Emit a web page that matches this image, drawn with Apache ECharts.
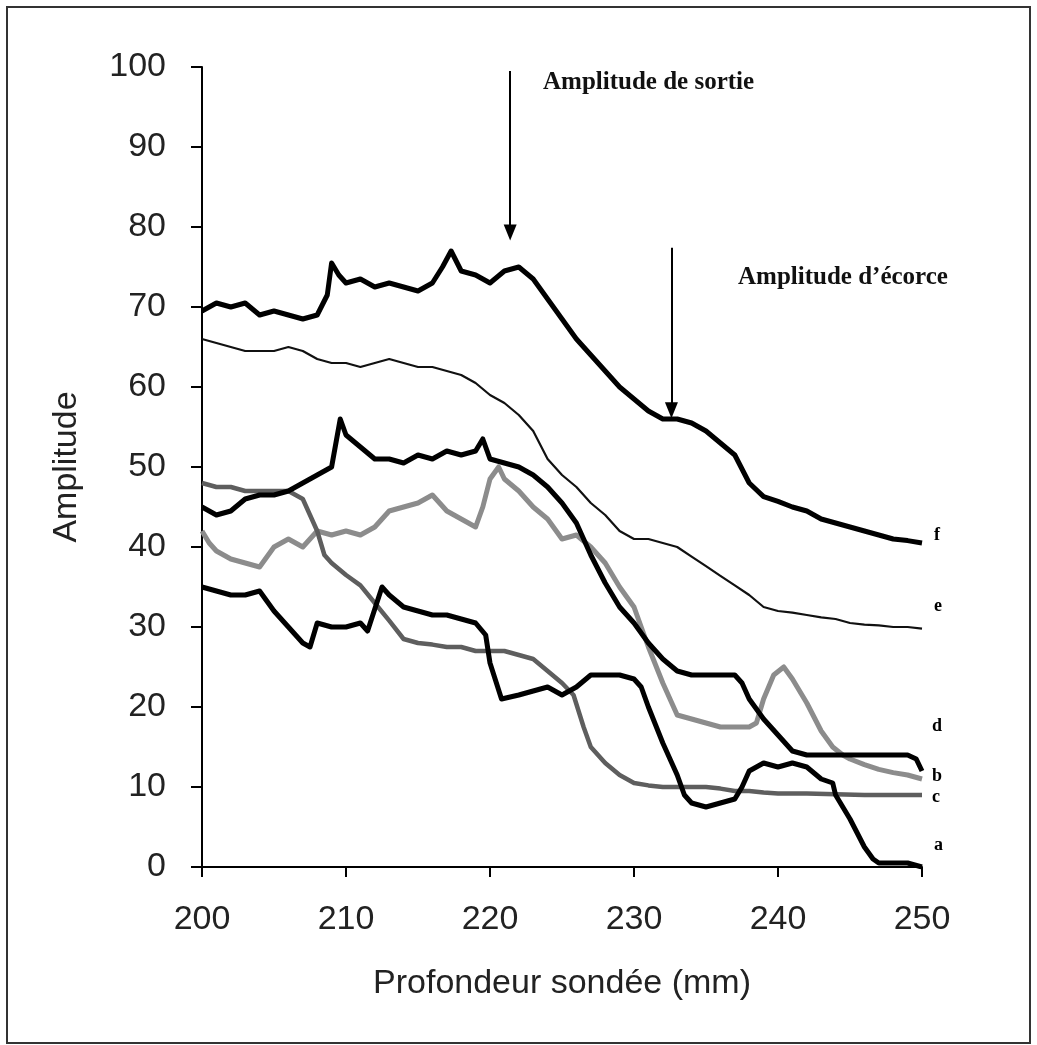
<!DOCTYPE html>
<html>
<head>
<meta charset="utf-8">
<script src="https://cdn.jsdelivr.net/npm/echarts@6/dist/echarts.min.js"></script>
<style>
    html, body { margin: 0; padding: 0; background: #fff; }
    #chart { width: 1037px; height: 1045px; }
</style>
</head>
<body>
<div id="chart"></div>
<script>
// profondeur (mm) / amplitude
const serieA = [[200,35],[201,34.5],[202,34],[203,34],[204,34.5],[205,32],[206,30],[207,28],[207.5,27.5],[208,30.5],[209,30],[210,30],[211,30.5],[211.5,29.5],[212.5,35],[213,34],[214,32.5],[215,32],[216,31.5],[217,31.5],[218,31],[219,30.5],[219.7,29],[220,25.5],[220.8,21],[222,21.5],[223,22],[224,22.5],[225,21.5],[226,22.5],[227,24],[228,24],[229,24],[230,23.5],[230.5,22.5],[231,20],[232,15.5],[233,11.5],[233.5,9],[234,8],[235,7.5],[236,8],[237,8.5],[237.5,10],[238,12],[239,13],[240,12.5],[241,13],[242,12.5],[243,11],[243.8,10.5],[244,9],[245,6],[246,2.5],[246.6,1],[247,0.5],[248,0.5],[249,0.5],[250,0]];
const serieB = [[200,42],[200.5,40.5],[201,39.5],[202,38.5],[203,38],[204,37.5],[205,40],[206,41],[207,40],[208,42],[209,41.5],[210,42],[211,41.5],[212,42.5],[213,44.5],[214,45],[215,45.5],[216,46.5],[217,44.5],[218,43.5],[219,42.5],[219.5,45],[220,48.5],[220.6,50],[221,48.5],[222,47],[223,45],[224,43.5],[225,41],[226,41.5],[227,40],[228,38],[229,35],[230,32.5],[231,27.5],[232,23],[233,19],[234,18.5],[235,18],[236,17.5],[237,17.5],[238,17.5],[238.5,18],[239,21],[239.7,24],[240.4,25],[241,23.5],[242,20.5],[243,17],[243.8,15],[244.5,14],[245,13.5],[246,12.8],[247,12.2],[248,11.8],[249,11.5],[250,11]];
const serieC = [[200,48],[201,47.5],[202,47.5],[203,47],[204,47],[205,47],[206,47],[206.5,46.5],[207,46],[207.5,44],[208,42],[208.5,39],[209,38],[210,36.5],[211,35.2],[212,33],[213,30.8],[214,28.5],[215,28],[216,27.8],[217,27.5],[218,27.5],[219,27],[220,27],[221,27],[222,26.5],[223,26],[224,24.5],[225,23],[225.8,21.5],[226.5,17.5],[227,15],[228,13],[229,11.5],[230,10.5],[231,10.2],[232,10],[233,10],[234,10],[235,10],[236,9.8],[237,9.5],[238,9.5],[239,9.3],[240,9.2],[242,9.2],[244,9.1],[246,9],[248,9],[250,9]];
const serieD = [[200,45],[201,44],[202,44.5],[203,46],[204,46.5],[205,46.5],[206,47],[207,48],[208,49],[209,50],[209.6,56],[210,54],[211,52.5],[212,51],[213,51],[214,50.5],[215,51.5],[216,51],[217,52],[218,51.5],[219,52],[219.5,53.5],[220,51],[221,50.5],[222,50],[223,49],[224,47.5],[225,45.5],[226,43],[227,39],[228,35.5],[229,32.5],[230,30.5],[231,28],[232,26],[233,24.5],[234,24],[235,24],[236,24],[237,24],[237.5,23],[238,21],[239,18.5],[240,16.5],[241,14.5],[242,14],[243,14],[244,14],[245,14],[246,14],[247,14],[248,14],[249,14],[249.6,13.5],[250,12]];
const serieE = [[200,66],[201,65.5],[202,65],[203,64.5],[204,64.5],[205,64.5],[206,65],[207,64.5],[208,63.5],[209,63],[210,63],[211,62.5],[212,63],[213,63.5],[214,63],[215,62.5],[216,62.5],[217,62],[218,61.5],[219,60.5],[220,59],[221,58],[222,56.5],[223,54.5],[224,51],[225,49],[226,47.5],[227,45.5],[228,44],[229,42],[230,41],[231,41],[232,40.5],[233,40],[234,38.8],[235,37.6],[236,36.4],[237,35.2],[238,34],[239,32.5],[240,32],[241,31.8],[242,31.5],[243,31.2],[244,31],[245,30.5],[246,30.3],[247,30.2],[248,30],[249,30],[250,29.8]];
const serieF = [[200,69.5],[201,70.5],[202,70],[203,70.5],[204,69],[205,69.5],[206,69],[207,68.5],[208,69],[208.7,71.5],[209,75.5],[209.5,74],[210,73],[211,73.5],[212,72.5],[213,73],[214,72.5],[215,72],[216,73],[216.7,75],[217.3,77],[218,74.5],[219,74],[220,73],[221,74.5],[222,75],[223,73.5],[224,71],[225,68.5],[226,66],[227,64],[228,62],[229,60],[230,58.5],[231,57],[232,56],[233,56],[234,55.5],[235,54.5],[236,53],[237,51.5],[238,48],[239,46.3],[240,45.7],[241,45],[242,44.5],[243,43.5],[244,43],[245,42.5],[246,42],[247,41.5],[248,41],[249,40.8],[250,40.5]];

// flèches : [profondeur, amplitude haut, amplitude pointe]
const flecheSortie = [221.4, 99.5, 79.3];
const flecheEcorce = [232.6, 77.4, 57.1];

const chart = echarts.init(document.getElementById('chart'));

function courbe(nom, data, color, width, offset) {
    return {
        name: nom,
        type: 'line',
        data: data,
        symbol: 'none',
        lineStyle: { color: color, width: width, join: 'round' },
        z: 3,
        endLabel: {
            show: true,
            formatter: nom,
            distance: 6,
            offset: offset,
            color: '#000',
            fontFamily: 'Liberation Serif',
            fontSize: 18,
            fontWeight: 'bold'
        }
    };
}

const series = [
    courbe('b', serieB, '#8c8c8c', 5, [4, -3]),
    courbe('c', serieC, '#5e5e5e', 4.5, [4, 2]),
    courbe('e', serieE, '#111', 2.2, [6, -22]),
    courbe('d', serieD, '#000', 5, [4, -45]),
    courbe('a', serieA, '#000', 5, [6, -22]),
    courbe('f', serieF, '#000', 5, [6, -8])
];
series[series.length - 1].markLine = {
    silent: true,
    symbol: ['none', 'triangle'],
    symbolSize: [13, 16],
    lineStyle: { color: '#000', width: 2, type: 'solid' },
    label: { show: false },
    data: [
        [{ coord: [flecheSortie[0], flecheSortie[1]] }, { coord: [flecheSortie[0], flecheSortie[2]] }],
        [{ coord: [flecheEcorce[0], flecheEcorce[1]] }, { coord: [flecheEcorce[0], flecheEcorce[2]] }]
    ]
};

chart.setOption({
    animation: false,
    backgroundColor: '#fff',
    grid: { left: 202, right: 115, top: 67, bottom: 178 },
    xAxis: {
        type: 'value',
        min: 200,
        max: 250,
        interval: 10,
        name: 'Profondeur sondée (mm)',
        nameLocation: 'middle',
        nameGap: 100,
        nameTextStyle: { fontFamily: 'Liberation Sans', fontSize: 34, color: '#222' },
        axisLine: { lineStyle: { color: '#000', width: 2 } },
        axisTick: { length: 10, lineStyle: { color: '#000', width: 2 } },
        axisLabel: { margin: 36, fontFamily: 'Liberation Sans', fontSize: 34, color: '#222' },
        splitLine: { show: false }
    },
    yAxis: {
        type: 'value',
        min: 0,
        max: 100,
        interval: 10,
        name: 'Amplitude',
        nameLocation: 'middle',
        nameGap: 118,
        nameTextStyle: { fontFamily: 'Liberation Sans', fontSize: 34, color: '#222' },
        axisLine: { show: true, lineStyle: { color: '#000', width: 2 } },
        axisTick: { show: true, length: 11, lineStyle: { color: '#000', width: 2 } },
        axisLabel: { margin: 36, fontFamily: 'Liberation Sans', fontSize: 34, color: '#222' },
        splitLine: { show: false }
    },
    graphic: [
        {
            type: 'rect',
            shape: { x: 7, y: 7, width: 1023, height: 1036 },
            style: { fill: 'none', stroke: '#333', lineWidth: 2 },
            silent: true
        },
        {
            type: 'text',
            left: 543,
            top: 70,
            style: { text: 'Amplitude de sortie', fontFamily: 'Liberation Serif', fontSize: 25, fontWeight: 'bold', fill: '#111' }
        },
        {
            type: 'text',
            left: 738,
            top: 265,
            style: { text: 'Amplitude d\u2019écorce', fontFamily: 'Liberation Serif', fontSize: 25, fontWeight: 'bold', fill: '#111' }
        }
    ],
    series: series
});
</script>
</body>
</html>
